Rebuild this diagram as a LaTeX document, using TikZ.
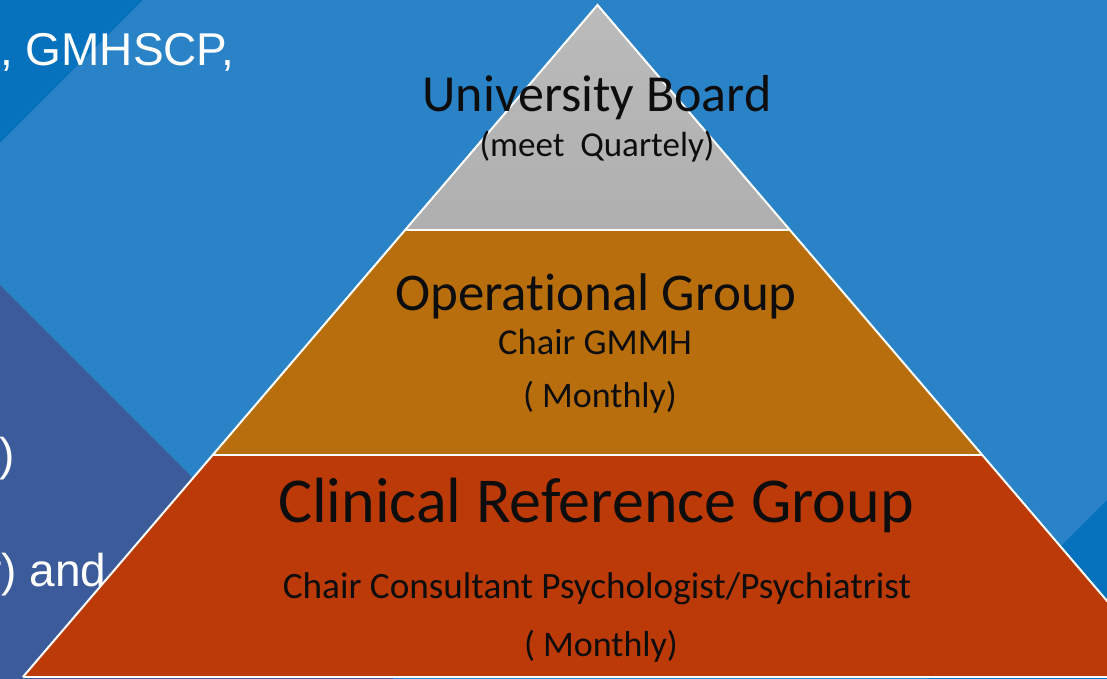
\documentclass[tikz,border=0pt]{standalone}
\usepackage{fontspec}
\setmainfont[Ligatures=NoCommon]{Carlito}
\newfontfamily\slidefont{Liberation Sans}

\definecolor{skyblue}{HTML}{2A83C7}
\definecolor{deepblue}{HTML}{0672BD}
\definecolor{slate}{HTML}{3B5B9B}
\definecolor{boardgreytop}{HTML}{BBBBBB}
\definecolor{boardgreybot}{HTML}{AFAFAF}
\definecolor{opsbrown}{HTML}{B86E0C}
\definecolor{clinred}{HTML}{BC3A07}
\definecolor{inktext}{HTML}{0D0D0D}

\newcommand{\fs}[1]{\fontsize{#1}{#1}\selectfont}

\begin{document}
\begin{tikzpicture}[x=1pt,y=-1pt,
  tierline/.style={draw=white, line width=2pt, line join=miter},
  title/.style={inner sep=0pt, anchor=base, text=inktext},
  sidetext/.style={inner sep=0pt, anchor=base west, text=white,
                   font=\slidefont\fs{46}}]
\useasboundingbox (0,0) rectangle (1107,679);
\clip (0,0) rectangle (1107,679);

% background panels
\fill[skyblue] (0,0) rectangle (1107,679);
\fill[deepblue] (0,0) -- (143,0) -- (0,143) -- cycle;
\fill[deepblue] (1107,500) -- (1107,720) -- (887,720) -- cycle;
\fill[slate] (0,285) -- (400,685) -- (0,685) -- cycle;

% text of the slide behind the pyramid
\node[sidetext] (gm)   at (0,66)   {, GMHSCP,};
\node[sidetext] (par)  at (-1,470) {)};
\node[sidetext] (andt) at (-14,586) {r) and};

% pyramid corner points
\coordinate (apex) at (597.5,5);
\coordinate (l1) at (405.1,230);  \coordinate (r1) at (789.9,230);
\coordinate (l2) at (212.7,455);  \coordinate (r2) at (982.3,455);
\coordinate (l3) at (22.9,677);   \coordinate (r3) at (1172.1,677);

% tiers
\shade[top color=boardgreytop, bottom color=boardgreybot] (apex) -- (r1) -- (l1) -- cycle;
\fill[opsbrown] (l1) -- (r1) -- (r2) -- (l2) -- cycle;
\fill[clinred] (l2) -- (r2) -- (r3) -- (l3) -- cycle;

% white outline and separators
\draw[tierline] (l3) -- (apex) -- (r3);
\draw[tierline] (l1) -- (r1);
\draw[tierline] (l2) -- (r2);
\draw[white, line width=1.2pt] (l3) -- (r3);

% labels
\node[title, font=\fs{52}] (board)  at (597,112) {University Board};
\node[title, font=\fs{35}] (boardm) at (597,157) {(meet\ \ Quartely)};
\node[title, font=\fs{53}] (ops)    at (596,310) {Operational Group};
\node[title, font=\fs{36.5}] (opsc) at (595,354) {Chair GMMH};
\node[title, font=\fs{36}] (opsm)   at (600,407) {( Monthly)};
\node[title, font=\fs{64}] (crg)    at (596,522) {Clinical Reference Group};
\node[title, font=\fs{37.2}] (crgc) at (597,598) {Chair Consultant Psychologist/Psychiatrist};
\node[title, font=\fs{36}] (crgm)   at (601,656) {( Monthly)};
\end{tikzpicture}
\end{document}
